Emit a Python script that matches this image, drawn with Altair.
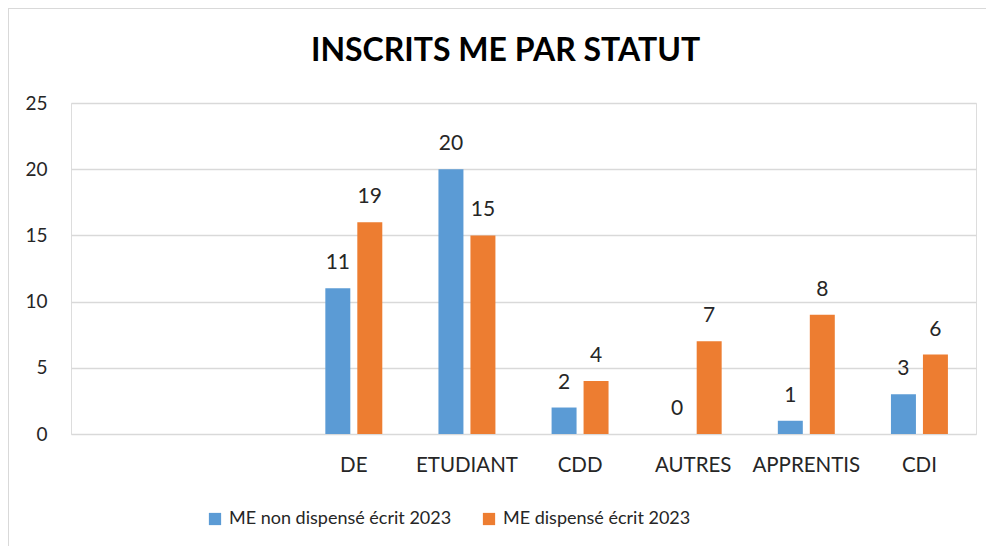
import altair as alt
import pandas as pd

# ---- data ----
categories = ["DE", "ETUDIANT", "CDD", "AUTRES", "APPRENTIS", "CDI"]
blank_slots = [" ", "  "]  # two empty category slots on the left of the axis
series = ["ME non dispensé écrit  2023", "ME dispensé écrit  2023"]
bar_non_dispense = [11, 20, 2, 0, 1, 3]      # bar heights (blue)
bar_dispense = [16, 15, 4, 7, 9, 6]          # bar heights (orange)
label_non_dispense = [11, 20, 2, 0, 1, 3]    # printed data labels (blue)
label_dispense = [19, 15, 4, 7, 8, 6]        # printed data labels (orange)
y_ticks = [0, 5, 10, 15, 20, 25]
colors = ["#5B9BD5", "#ED7D31"]

rows = []
for s, vals, labs in [
    (series[0], bar_non_dispense, label_non_dispense),
    (series[1], bar_dispense, label_dispense),
]:
    for c, v, l in zip(categories, vals, labs):
        rows.append({"categorie": c, "serie": s, "valeur": v, "etiquette": str(l)})
df = pd.DataFrame(rows)

FONT = "Lato"
TXT = "#262626"

x_enc = alt.X(
    "categorie:N",
    sort=None,
    scale=alt.Scale(domain=blank_slots + categories, paddingInner=0, paddingOuter=0),
    axis=alt.Axis(
        title=None, labelAngle=0, ticks=False, domain=False, grid=False,
        labelFont=FONT, labelFontSize=20.5, labelColor=TXT,
        labelBaseline="middle", labelPadding=31,
    ),
)
xoff_enc = alt.XOffset(
    "serie:N",
    sort=series,
    scale=alt.Scale(domain=series, paddingInner=0.219, paddingOuter=0.878),
)
y_enc = alt.Y(
    "valeur:Q",
    scale=alt.Scale(domain=[0, 25], nice=False),
    axis=alt.Axis(
        values=y_ticks, title=None, ticks=False, domain=False, grid=True,
        gridColor="#d9d9d9", gridWidth=1.5,
        labelFont=FONT, labelFontSize=19, labelColor=TXT, labelPadding=24,
    ),
)

base = alt.Chart(df)

bars = base.mark_bar().encode(
    x=x_enc,
    xOffset=xoff_enc,
    y=y_enc,
    color=alt.Color(
        "serie:N",
        sort=series,
        scale=alt.Scale(domain=series, range=colors),
        legend=alt.Legend(
            title=None, orient="none", legendX=135, legendY=407,
            direction="horizontal", symbolType="square", symbolSize=150,
            symbolStrokeWidth=0, labelFont=FONT, labelFontSize=18,
            labelColor=TXT, columnPadding=24, labelOffset=5, labelLimit=0,
        ),
    ),
)

labels = base.mark_text(
    baseline="middle", dy=-25, fontSize=21, font=FONT, color=TXT
).encode(
    x=x_enc,
    xOffset=xoff_enc,
    y=y_enc,
    text="etiquette:N",
)

frame_df = pd.DataFrame({"k": [0]})
left_border = alt.Chart(frame_df).mark_rule(color="#d9d9d9", strokeWidth=2).encode(
    x=alt.value(-63), y=alt.value(-95), y2=alt.value(443)
)
top_border = alt.Chart(frame_df).mark_rule(color="#d9d9d9", strokeWidth=2).encode(
    x=alt.value(-63), x2=alt.value(915), y=alt.value(-95)
)

chart = (
    alt.layer(left_border, top_border, bars, labels)
    .properties(
        width=905,
        height=331,
        title=alt.TitleParams(
            "INSCRITS ME PAR STATUT", font=FONT, fontSize=32, fontWeight="bold",
            color="#000000", anchor="middle", dx=-18, dy=34, baseline="alphabetic",
            offset=-52,
        ),
        autosize=alt.AutoSizeParams(type="none"),
        padding={"left": 63, "top": 95, "right": 10, "bottom": 112},
    )
    .configure_view(stroke=None)
    .configure(background="white")
)

chart.save("out.html", embed_options={"renderer": "svg", "actions": False})
